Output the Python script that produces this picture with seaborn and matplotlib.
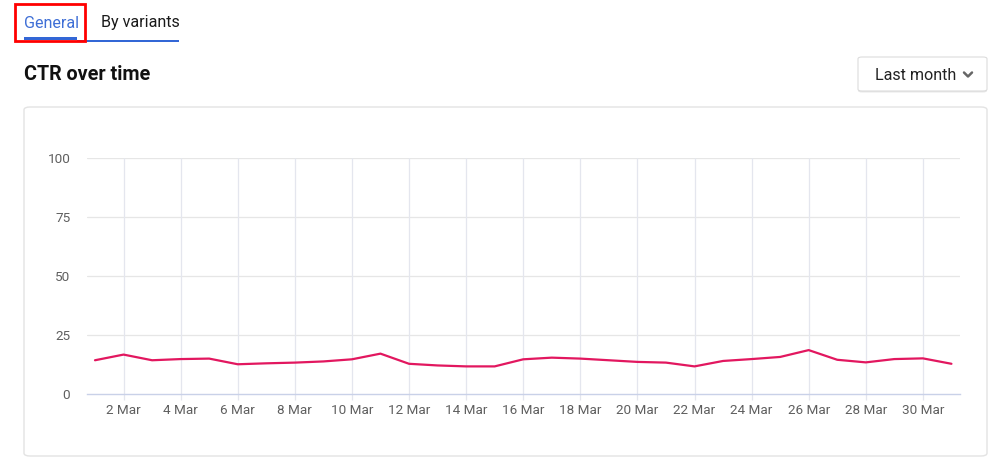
import matplotlib
matplotlib.use("Agg")
import matplotlib.pyplot as plt
import seaborn as sns
import pandas as pd
import numpy as np
from matplotlib.patches import FancyBboxPatch, Rectangle
from matplotlib.lines import Line2D

# ---- data ----
days = list(range(1, 32))
ctr = [14.3, 16.7, 14.3, 14.8, 15.0, 12.6, 13.0, 13.3, 13.8, 14.7,
       17.1, 12.8, 12.1, 11.7, 11.7, 14.7, 15.4, 15.0, 14.3, 13.6,
       13.3, 11.7, 14.0, 14.8, 15.7, 18.6, 14.5, 13.4, 14.8, 15.1, 12.8]
y_ticks = [0, 25, 50, 75, 100]
x_ticks = list(range(2, 31, 2))
x_tick_labels = [f"{d} Mar" for d in x_ticks]
title = "CTR over time"
tabs = ["General", "By variants"]
period = "Last month"

sns.set_theme(style="white")
plt.rcParams['font.family'] = ['Roboto', 'DejaVu Sans']

W, H = 1007, 473
fig = plt.figure(figsize=(W / 100, H / 100), dpi=100)
fig.patch.set_facecolor("white")


def fx(x):
    return x / W


def fy(y):
    return (H - y) / H


# card
card = FancyBboxPatch((fx(24), fy(456)), fx(987) - fx(24), fy(107) - fy(456),
                      boxstyle="round,pad=0,rounding_size=0.006",
                      transform=fig.transFigure, facecolor="white",
                      edgecolor="#e3e3e3", linewidth=1.0, zorder=-5)
fig.patches.append(card)

# axes
ax = fig.add_axes([fx(87), fy(394), fx(960) - fx(87), fy(158) - fy(394)])
ax.set_zorder(2)
ax.set_facecolor("none")
df = pd.DataFrame({"day": days, "ctr": ctr})
sns.lineplot(data=df, x="day", y="ctr", ax=ax, color="#e2175f", linewidth=1.6, zorder=3)
ax.set_xlim(0.72, 31.3)
ax.set_ylim(0, 100)
ax.set_yticks(y_ticks)
ax.set_xticks(x_ticks)
ax.set_xticklabels(x_tick_labels)
ax.set_xlabel("")
ax.set_ylabel("")
for s in ["top", "right", "left"]:
    ax.spines[s].set_visible(False)
ax.spines["bottom"].set_color("#c9d1e8")
ax.spines["bottom"].set_linewidth(1.0)
for yv in y_ticks[1:]:
    ax.axhline(yv, color="#e6e6e6", linewidth=0.9, zorder=1)
for xv in x_ticks:
    ax.axvline(xv, color="#e4e6ee", linewidth=0.9, zorder=1)
ax.tick_params(axis="y", length=0, pad=12, labelsize=9.7, labelcolor="#5f5f5f")
ax.tick_params(axis="x", length=4, width=0.9, color="#e4e6ee", pad=3,
               labelsize=9.7, labelcolor="#5f5f5f", bottom=True)
ax.grid(False)

# tabs
fig.text(fx(24), fy(23), tabs[0], fontsize=11.6, color="#3f6fd6", va="center", ha="left")
fig.text(fx(101), fy(23), tabs[1], fontsize=11.6, color="#1a1a1a", va="center", ha="left")
fig.patches.append(Rectangle((fx(77), fy(42)), fx(179) - fx(77), fy(40) - fy(42),
                             transform=fig.transFigure, facecolor="#3367d6",
                             edgecolor="none"))
fig.patches.append(Rectangle((fx(24), fy(40)), fx(77) - fx(24), fy(37) - fy(40),
                             transform=fig.transFigure, facecolor="#3367d6",
                             edgecolor="none"))
fig.patches.append(Rectangle((fx(15), fy(41.5)), fx(85.5) - fx(15), fy(4) - fy(41.5),
                             transform=fig.transFigure, facecolor="none",
                             edgecolor="#ff0000", linewidth=2.0))

# title
fig.text(fx(24), fy(74), title, fontsize=14.2, fontweight="bold", color="#111111",
         va="center", ha="left")

# button with shadow
shadow = FancyBboxPatch((fx(858), fy(92.5)), fx(987) - fx(858), fy(58.5) - fy(92.5),
                        boxstyle="round,pad=0,rounding_size=0.004",
                        transform=fig.transFigure, facecolor="#d8d8d8",
                        edgecolor="none", alpha=0.6)
fig.patches.append(shadow)
btn = FancyBboxPatch((fx(858), fy(91)), fx(987) - fx(858), fy(57) - fy(91),
                     boxstyle="round,pad=0,rounding_size=0.004",
                     transform=fig.transFigure, facecolor="white",
                     edgecolor="#dcdcdc", linewidth=0.8)
fig.patches.append(btn)
fig.text(fx(875), fy(75), period, fontsize=11.6, color="#222222", va="center", ha="left")
fig.lines.append(Line2D([fx(964), fx(968), fx(972)], [fy(72.5), fy(76.5), fy(72.5)],
                        transform=fig.transFigure, color="#666666", linewidth=1.8,
                        solid_capstyle="round", solid_joinstyle="round"))

fig.savefig("out.png", dpi=100, facecolor="white")
